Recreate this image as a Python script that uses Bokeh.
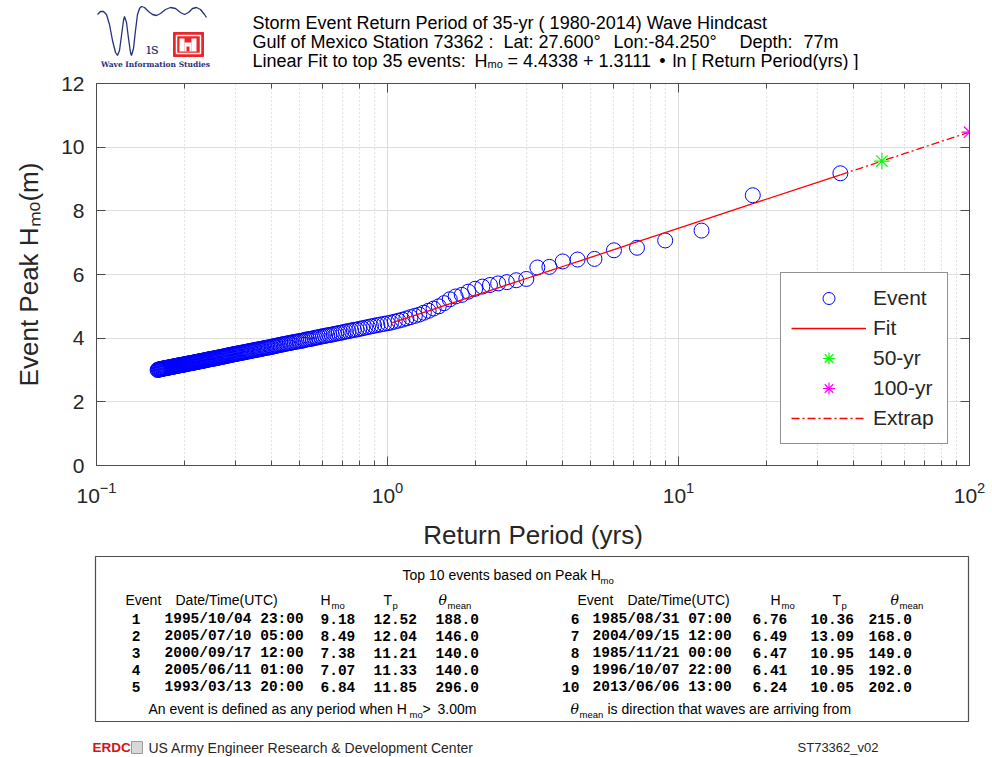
import math
from bokeh.plotting import figure
from bokeh.models import (Range1d, FixedTicker, LinearAxis, LogAxis, LogTicker, Legend,
                          LegendItem, CustomJSTickFormatter, ColumnDataSource)
from bokeh.layouts import column, row
from bokeh.core.properties import value
from bokeh.embed import file_html
from bokeh.resources import INLINE

# ---------------------------------------------------------------- data
record_years = 35
station = "73362"
top_rank = [1, 2, 3, 4, 5, 6, 7, 8, 9, 10]
top_date = ["1995/10/04 23:00", "2005/07/10 05:00", "2000/09/17 12:00", "2005/06/11 01:00",
            "1993/03/13 20:00", "1985/08/31 07:00", "2004/09/15 12:00", "1985/11/21 00:00",
            "1996/10/07 22:00", "2013/06/06 13:00"]
top_hmo = [9.18, 8.49, 7.38, 7.07, 6.84, 6.76, 6.49, 6.47, 6.41, 6.24]
top_tp = [12.52, 12.04, 11.21, 11.33, 11.85, 10.36, 13.09, 10.95, 10.95, 10.05]
top_theta = [188.0, 146.0, 140.0, 140.0, 296.0, 215.0, 168.0, 149.0, 192.0, 202.0]

# event peak Hmo for ranks 11 .. 222
other_hmo = [
    6.22, 5.86, 5.82, 5.76, 5.72, 5.67, 5.62, 5.55, 5.46, 5.36,
    5.31, 5.22, 5.10, 5.00, 4.93, 4.86, 4.80, 4.74, 4.70, 4.66,
    4.62, 4.58, 4.55, 4.52, 4.49,
    4.47, 4.45, 4.43, 4.41, 4.39, 4.37, 4.35, 4.33, 4.31, 4.29,
    4.27, 4.26, 4.24, 4.22, 4.21, 4.19, 4.17, 4.16, 4.14, 4.13,
    4.11, 4.10, 4.09, 4.07, 4.06, 4.05, 4.03, 4.02, 4.01, 3.99,
    3.98, 3.97, 3.96, 3.95, 3.93, 3.92, 3.91, 3.90, 3.89, 3.88,
    3.87, 3.86, 3.85, 3.84, 3.83, 3.82, 3.81, 3.80, 3.79, 3.78,
    3.77, 3.76, 3.75, 3.74, 3.73, 3.72, 3.71, 3.70, 3.70, 3.69,
    3.68, 3.67, 3.66, 3.65, 3.65,
    3.64, 3.63, 3.62, 3.62, 3.61, 3.60, 3.59, 3.59, 3.58, 3.57,
    3.56, 3.56, 3.55, 3.54, 3.54, 3.53, 3.52, 3.52, 3.51, 3.50,
    3.50, 3.49, 3.48, 3.48, 3.47, 3.46, 3.46, 3.45, 3.44, 3.43,
    3.43, 3.42, 3.42, 3.41, 3.40, 3.40, 3.39, 3.39, 3.38, 3.37,
    3.37, 3.36, 3.36, 3.35, 3.35, 3.34, 3.34, 3.33, 3.33, 3.32,
    3.31, 3.31, 3.30, 3.30, 3.29, 3.29, 3.28, 3.28, 3.27, 3.27,
    3.26, 3.26, 3.25, 3.25, 3.24, 3.24, 3.23, 3.23, 3.22, 3.22,
    3.21, 3.21, 3.21, 3.20, 3.20, 3.19, 3.19, 3.18, 3.18, 3.17,
    3.17, 3.17, 3.16, 3.16, 3.15, 3.15, 3.15, 3.14, 3.14, 3.13,
    3.13, 3.12, 3.12, 3.12, 3.11, 3.11, 3.10, 3.10, 3.10, 3.09,
    3.09, 3.08, 3.08, 3.08, 3.07, 3.07, 3.06, 3.06, 3.06, 3.05,
    3.05, 3.05, 3.04, 3.04, 3.03, 3.03, 3.03, 3.02, 3.02, 3.01, 3.01, 3.00,
]
event_hmo = top_hmo + other_hmo
event_rank = list(range(1, len(event_hmo) + 1))
# Weibull plotting position: T = (years + 1) / rank
return_period = [(record_years + 1) / r for r in event_rank]

fit_intercept = 4.4338
fit_slope = 1.3111
n_fit_events = 35
design_periods = [50, 100]
y_ticks = [0, 2, 4, 6, 8, 10, 12]

# ---------------------------------------------------------------- styles
SANS = "Liberation Sans"
MONO = "Liberation Mono"
SERIF = "DejaVu Serif"
AX = "#4d4d4d"
TXT = "#262626"


def add_text(fig, x, y, s, size, font=SANS, color="#000000", align="left",
             baseline="middle", style="normal", angle=0.0):
    fig.text(x=[x], y=[y], text=[s], text_font=value(font), text_font_size=f"{size}px",
             text_color=color, text_align=align, text_baseline=baseline,
             text_font_style=style, angle=angle)


def blank_fig(w, h, x0, x1, y0, y1):
    # pixel-like coordinates: x to the right, y downwards
    f = figure(width=w, height=h, x_range=Range1d(x0, x1), y_range=Range1d(y1, y0),
               x_axis_type=None, y_axis_type=None, output_backend="svg",
               toolbar_location=None, min_border=0, outline_line_color=None)
    f.grid.visible = False
    return f


# ---------------------------------------------------------------- header
hdr = blank_fig(992, 70, 0, 992, 0, 70)


def draw_wis_logo(fig):
    navy = "#27317a"
    wx = [97, 100, 103, 106, 109, 112, 115, 117, 119, 121, 123, 124, 126, 128, 130, 131, 133,
          135, 137, 139, 141, 144, 148, 152, 156, 160, 165, 170, 175, 180, 184, 188, 192, 196,
          200, 204, 206]
    wy = [14, 11, 11, 14, 24, 40, 52, 55, 50, 35, 20, 16, 22, 38, 52, 55, 48, 30, 14, 8, 6, 7,
          11, 14, 15, 13, 9, 7, 8, 12, 14, 12, 8, 7, 9, 14, 17]
    fig.line(wx, wy, line_color=navy, line_width=1.3)
    add_text(fig, 152, 48, "ıs", 15, font=SERIF, color=navy, align="center")
    add_text(fig, 155, 64, "Wave Information Studies", 7.5, font=SERIF, color=navy,
             align="center", style="bold")
    fig.quad(left=[173], right=[203], top=[32], bottom=[56], fill_color="#e8262b",
             line_color="#e8262b")
    fig.quad(left=[176], right=[200], top=[35], bottom=[53], fill_color=None,
             line_color="white", line_width=1.5)
    fig.quad(left=[179, 191, 184], right=[184, 196, 191], top=[38, 38, 42],
             bottom=[51, 51, 51], fill_color="white", line_color=None)
    fig.quad(left=[186], right=[189], top=[46], bottom=[51], fill_color="#e8262b",
             line_color=None)


draw_wis_logo(hdr)

T1 = 18
add_text(hdr, 252, 22, f"Storm Event Return Period of {record_years}-yr ( 1980-2014) Wave Hindcast", T1)
add_text(hdr, 252, 41, "Gulf of Mexico", T1)
add_text(hdr, 372, 41, f"Station {station} :", T1)
add_text(hdr, 503, 41, "Lat: 27.600°", T1)
add_text(hdr, 613, 41, "Lon:-84.250°", T1)
add_text(hdr, 739, 41, "Depth:", T1)
add_text(hdr, 803, 41, "77m", T1)
add_text(hdr, 252, 60, f"Linear Fit to top {n_fit_events} events:", T1)
add_text(hdr, 474, 60, "H", T1)
add_text(hdr, 487, 63.5, "mo", 11)
add_text(hdr, 507, 60, f"= {fit_intercept:.4f} + {fit_slope:.4f}", T1)
add_text(hdr, 662, 60, "•", T1, align="center")
add_text(hdr, 672, 60, "ln [ Return Period(yrs) ]", T1)

# ---------------------------------------------------------------- main plot
p = figure(width=992, height=484, x_axis_type="log", x_range=Range1d(0.1, 100),
           y_range=Range1d(0, 12), output_backend="svg", toolbar_location=None,
           min_border_left=96, min_border_right=23, min_border_top=13, min_border_bottom=89,
           outline_line_color=AX)

x_ax = p.below[0]
y_ax = p.left[0]
y_ax.ticker = FixedTicker(ticks=y_ticks, minor_ticks=[])
x_ax.axis_label = "Return Period (yrs)"
y_ax.axis_label = "Event Peak Hₘₒ(m)"

top_ax = LogAxis(ticker=LogTicker(), formatter=CustomJSTickFormatter(code="return ''"),
                 major_label_standoff=0)
right_ax = LinearAxis(ticker=FixedTicker(ticks=y_ticks, minor_ticks=[]),
                      formatter=CustomJSTickFormatter(code="return ''"),
                      major_label_standoff=0)
p.add_layout(top_ax, "above")
p.add_layout(right_ax, "right")

for ax in [x_ax, y_ax, top_ax, right_ax]:
    ax.axis_line_color = AX
    ax.major_tick_line_color = AX
    ax.minor_tick_line_color = AX
    ax.major_tick_in = 9
    ax.major_tick_out = 0
    ax.minor_tick_in = 5
    ax.minor_tick_out = 0
    ax.major_label_text_font = SANS
    ax.major_label_text_font_size = "21px"
    ax.major_label_text_color = TXT
    ax.axis_label_text_font = SANS
    ax.axis_label_text_font_size = "26px"
    ax.axis_label_text_font_style = "normal"
    ax.axis_label_text_color = TXT
y_ax.minor_tick_in = 0
right_ax.minor_tick_in = 0
x_ax.major_label_standoff = 16
x_ax.axis_label_standoff = 14
y_ax.major_label_standoff = 12
y_ax.axis_label_standoff = 14

p.xgrid.grid_line_color = "#dedede"
p.xgrid.minor_grid_line_color = "#c4c4c4"
p.xgrid.minor_grid_line_dash = "1 3"
p.ygrid.grid_line_color = "#dedede"

src = ColumnDataSource(data=dict(T=return_period, H=event_hmo))
r_event = p.scatter("T", "H", source=src, marker="circle", size=15, fill_color=None,
                    line_color="#0000ff", line_width=1)

fit_T = return_period[:n_fit_events][::-1]
fit_H = [fit_intercept + fit_slope * math.log(t) for t in fit_T]
r_fit = p.line(fit_T, fit_H, line_color="#ff0000", line_width=1.3)

ext_T = [return_period[0]] + design_periods
ext_H = [fit_intercept + fit_slope * math.log(t) for t in ext_T]
r_ext = p.line(ext_T, ext_H, line_color="#ff0000", line_width=1.3, line_dash="8 3 2 3")

h50 = fit_intercept + fit_slope * math.log(design_periods[0])
h100 = fit_intercept + fit_slope * math.log(design_periods[1])
r50 = p.scatter([design_periods[0]], [h50], marker="asterisk", size=16,
                line_color="#00ff00", line_width=1.2)
r100 = p.scatter([design_periods[1]], [h100], marker="asterisk", size=16,
                 line_color="#ff00ff", line_width=1.2)

legend = Legend(items=[LegendItem(label="Event", renderers=[r_event]),
                       LegendItem(label="Fit", renderers=[r_fit]),
                       LegendItem(label="50-yr", renderers=[r50]),
                       LegendItem(label="100-yr", renderers=[r100]),
                       LegendItem(label="Extrap", renderers=[r_ext])],
                location=(684, 21), padding=10, spacing=0, margin=0,
                glyph_width=75, glyph_height=30, label_height=30, label_width=64,
                label_standoff=7, label_text_font=SANS, label_text_font_size="21px",
                label_text_color=TXT, border_line_color=TXT, border_line_width=1,
                background_fill_color="white", background_fill_alpha=1.0)
p.add_layout(legend, "center")

# ---------------------------------------------------------------- table + footer
tbl = blank_fig(992, 203, 0, 992, 554, 757)
tbl.quad(left=[95], right=[968], top=[556], bottom=[721], fill_color=None,
         line_color=AX, line_width=1.2)

TS = 14
add_text(tbl, 402, 574, "Top 10 events based on Peak H", TS)
add_text(tbl, 600, 580, "mo", 9.5)

groups = [dict(ev=125, dt=175, h=320, t=383, th=438,
               rk=140, d=164, hv=320, tv=373, thv=435, rows=range(0, 5)),
          dict(ev=577, dt=627, h=770, t=832, th=890,
               rk=579, d=592, hv=752, tv=810, thv=868, rows=range(5, 10))]
HY = 599
for g in groups:
    add_text(tbl, g["ev"], HY, "Event", TS)
    add_text(tbl, g["dt"], HY, "Date/Time(UTC)", TS)
    add_text(tbl, g["h"], HY, "H", TS)
    add_text(tbl, g["h"] + 11, HY + 6, "mo", 9.5)
    add_text(tbl, g["t"], HY, "T", TS)
    add_text(tbl, g["t"] + 9, HY + 6, "p", 9.5)
    add_text(tbl, g["th"], HY, "θ", TS, font=SERIF, style="italic")
    add_text(tbl, g["th"] + 9, HY + 6, "mean", 9.5)
    for j, i in enumerate(g["rows"]):
        yy = 618 + 17.2 * j
        add_text(tbl, g["rk"], yy, f"{top_rank[i]}", 14.5, font=MONO, style="bold", align="right")
        add_text(tbl, g["d"], yy, top_date[i], 14.5, font=MONO, style="bold")
        add_text(tbl, g["hv"], yy, f"{top_hmo[i]:.2f}", 14.5, font=MONO, style="bold")
        add_text(tbl, g["tv"], yy, f"{top_tp[i]:.2f}", 14.5, font=MONO, style="bold")
        add_text(tbl, g["thv"], yy, f"{top_theta[i]:.1f}", 14.5, font=MONO, style="bold")

FY = 708
add_text(tbl, 148, FY, "An event is defined as any period when H", TS)
add_text(tbl, 409, FY + 6, "mo", 9.5)
add_text(tbl, 422, FY, ">", TS)
add_text(tbl, 437, FY, "3.00m", TS)
add_text(tbl, 570, FY, "θ", TS, font=SERIF, style="italic")
add_text(tbl, 579, FY + 6, "mean", 9.5)
add_text(tbl, 607, FY, "is direction that waves are arriving from", TS)

# footer
add_text(tbl, 92, 747, "ERDC", 13.5, color="#d0141a", style="bold")
tbl.quad(left=[131], right=[142], top=[741], bottom=[753], fill_color="#d8d8d8",
         line_color="#9a9a9a")
add_text(tbl, 148, 747, "US Army Engineer Research & Development Center", 14, color=TXT)
add_text(tbl, 878, 747, f"ST{station}_v02", 13, color=TXT, align="right")

layout = column(hdr, row(p), tbl)
open("out.html", "w").write(file_html(layout, INLINE))
